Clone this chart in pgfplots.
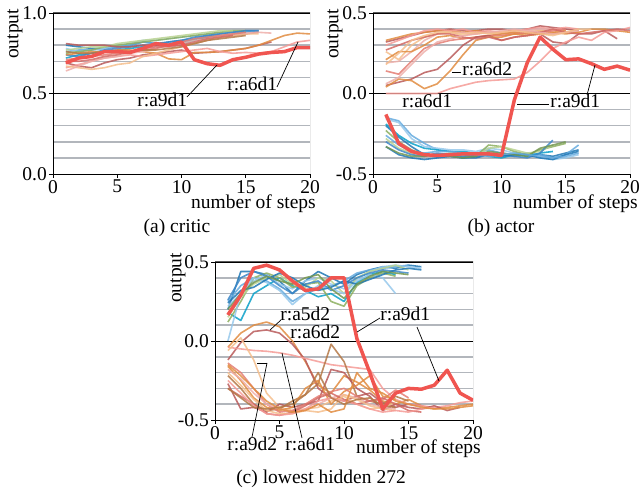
\documentclass[border=0pt]{standalone}
\usepackage{pgfplots}
\pgfplotsset{compat=1.18}
\usepackage{fontspec}
\setmainfont{Liberation Serif}
\definecolor{B1}{RGB}{31,119,180}
\definecolor{B2}{RGB}{100,170,222}
\definecolor{B3}{RGB}{10,160,200}
\definecolor{B4}{RGB}{150,200,235}
\definecolor{B5}{RGB}{60,135,200}
\definecolor{G1}{RGB}{140,175,95}
\definecolor{G2}{RGB}{185,210,145}
\definecolor{G3}{RGB}{115,150,80}
\definecolor{R1}{RGB}{185,90,90}
\definecolor{R2}{RGB}{228,125,115}
\definecolor{R3}{RGB}{245,155,150}
\definecolor{R4}{RGB}{210,105,100}
\definecolor{O1}{RGB}{225,140,65}
\definecolor{O2}{RGB}{245,190,140}
\definecolor{P1}{RGB}{238,175,170}
\definecolor{Br}{RGB}{180,120,70}
\definecolor{HL}{RGB}{240,85,80}
\definecolor{gridgray}{RGB}{178,182,188}
\pgfplotsset{
  base/.style={scale only axis, width=257pt, height=161pt, xmin=0, xmax=20,
    axis x line*=bottom, axis y line*=left,
    axis line style={black, line width=0.9pt},
    xtick={0,5,10,15,20}, xticklabels={0,5,10,15,20},
    tick align=outside, major tick length=4pt, minor tick length=0pt,
    tick style={black, line width=0.8pt},
    yticklabel style={inner xsep=2pt},
    xticklabel style={inner ysep=2pt},
    yminorgrids, ymajorgrids,
    minor grid style={color=gridgray, line width=1.5pt},
    major grid style={black, line width=0.9pt},
    every axis plot/.append style={line width=1.6pt, line join=round, opacity=0.85, no markers},
  },
  pm/.style={ymin=-0.5, ymax=0.5, ytick={-0.5,0,0.5}, yticklabels={-0.5,0.0,0.5},
    minor ytick={-0.4,-0.3,-0.2,-0.1,0.1,0.2,0.3,0.4}},
  hl/.style={HL, line width=3.5pt, opacity=1},
}
\begin{document}
\begin{tikzpicture}[font=\fontsize{19.5}{23}\selectfont]
\useasboundingbox (0,0) rectangle (639pt,490pt);
% ---------------- (a) critic
\begin{axis}[base, at={(53pt,316pt)}, anchor=south west,
  ymin=0, ymax=1, ytick={0,0.5,1}, yticklabels={0.0,0.5,1.0},
  minor ytick={0.1,0.2,0.3,0.4,0.6,0.7,0.8,0.9}]
\addplot[B1] coordinates {(1,0.80)(2,0.79)(3,0.78)(4,0.78)(5,0.79)(6,0.80)(7,0.82)(8,0.81)(9,0.82)(10,0.83)(11,0.84)(12,0.86)(13,0.87)(14,0.88)(15,0.89)(16,0.89)};
\addplot[B2] coordinates {(1,0.76)(2,0.77)(3,0.77)(4,0.78)(5,0.79)(6,0.80)(7,0.82)(8,0.81)(9,0.81)(10,0.82)(11,0.84)(12,0.86)(13,0.87)(14,0.88)(15,0.88)(16,0.89)};
\addplot[B3] coordinates {(1,0.72)(2,0.74)(3,0.75)(4,0.76)(5,0.77)(6,0.78)(7,0.79)(8,0.80)(9,0.80)(10,0.81)(11,0.83)(12,0.85)(13,0.86)(14,0.87)(15,0.88)};
\addplot[B4] coordinates {(1,0.78)(2,0.76)(3,0.77)(4,0.78)(5,0.80)(6,0.81)(7,0.83)(8,0.83)(9,0.84)(10,0.85)(11,0.86)(12,0.87)(13,0.88)(14,0.89)};
\addplot[G1] coordinates {(1,0.75)(2,0.76)(3,0.77)(4,0.79)(5,0.80)(6,0.81)(7,0.82)(8,0.83)(9,0.84)(10,0.85)(11,0.86)(12,0.87)(13,0.88)(14,0.89)(15,0.89)};
\addplot[G2] coordinates {(1,0.77)(2,0.78)(3,0.79)(4,0.79)(5,0.81)(6,0.82)(7,0.83)(8,0.84)(9,0.85)(10,0.86)(11,0.87)(12,0.88)(13,0.89)(14,0.89)};
\addplot[B5] coordinates {(1,0.74)(2,0.73)(3,0.75)(4,0.77)(5,0.78)(6,0.79)(7,0.80)(8,0.80)(9,0.82)(10,0.83)(11,0.85)(12,0.86)(13,0.87)(14,0.88)(15,0.89)(16,0.89)};
\addplot[R1] coordinates {(1,0.81)(2,0.80)(3,0.80)(4,0.80)(5,0.79)(6,0.79)(7,0.80)(8,0.80)(9,0.80)(10,0.80)(11,0.81)(12,0.83)(13,0.85)(14,0.86)(15,0.87)(16,0.88)};
\addplot[R1] coordinates {(1,0.69)(2,0.67)(3,0.66)(4,0.69)(5,0.71)(6,0.72)(7,0.74)(8,0.75)(9,0.76)(10,0.77)(11,0.75)(12,0.755)(13,0.76)(14,0.77)(15,0.78)(16,0.80)(17,0.82)};
\addplot[O1] coordinates {(1,0.74)(2,0.75)(3,0.76)(4,0.76)(5,0.77)(6,0.77)(7,0.76)(8,0.75)(9,0.715)(10,0.71)(11,0.755)(12,0.755)(13,0.76)(14,0.77)(15,0.78)(16,0.80)(17,0.83)(18,0.86)(19,0.875)(20,0.87)};
\addplot[R3] coordinates {(1,0.66)(2,0.68)(3,0.70)(4,0.72)(5,0.73)(6,0.74)(7,0.73)(8,0.74)(9,0.75)(10,0.76)(11,0.77)(12,0.78)(13,0.76)(14,0.75)(15,0.755)(16,0.75)(17,0.76)(18,0.79)(19,0.82)(20,0.83)};
\addplot[O2] coordinates {(1,0.67)(2,0.66)(3,0.65)(4,0.66)(5,0.68)(6,0.69)(7,0.73)(8,0.75)(9,0.77)(10,0.79)(11,0.81)(12,0.83)(13,0.85)(14,0.86)(15,0.87)(16,0.87)};
\addplot[P1] coordinates {(1,0.64)(2,0.67)(3,0.70)(4,0.72)(5,0.73)(6,0.75)(7,0.76)(8,0.78)(9,0.80)(10,0.81)(11,0.83)(12,0.84)(13,0.86)(14,0.87)(15,0.875)(16,0.88)(17,0.875)};
\addplot[R2] coordinates {(1,0.71)(2,0.72)(3,0.73)(4,0.74)(5,0.75)(6,0.76)(7,0.77)(8,0.78)(9,0.80)(10,0.82)(11,0.84)(12,0.85)(13,0.86)(14,0.87)(15,0.88)};
\addplot[R4] coordinates {(1,0.70)(2,0.70)(3,0.71)(4,0.73)(5,0.74)(6,0.76)(7,0.78)(8,0.79)(9,0.79)(10,0.80)(11,0.82)(12,0.84)(13,0.85)(14,0.86)};
\addplot[Br] coordinates {(1,0.76)(2,0.75)(3,0.75)(4,0.76)(5,0.76)(6,0.76)(7,0.77)(8,0.77)(9,0.78)(10,0.79)(11,0.81)(12,0.83)(13,0.84)(14,0.85)(15,0.86)};
\addplot[hl] coordinates {(1,0.69)(2,0.72)(3,0.73)(4,0.76)(5,0.76)(6,0.755)(7,0.78)(8,0.81)(9,0.80)(10,0.82)(11,0.71)(12,0.685)(13,0.675)(14,0.71)(15,0.725)(16,0.745)(17,0.755)(18,0.76)(19,0.785)(20,0.785)};
\draw[black!65, line width=1pt] (axis cs:0,1) -- (axis cs:20,1) -- (axis cs:20,0);
\end{axis}
% ---------------- (b) actor
\begin{axis}[base, pm, at={(373pt,316pt)}, anchor=south west]
\addplot[B1] coordinates {(1,-0.20)(2,-0.27)(3,-0.33)(4,-0.38)(5,-0.39)(6,-0.39)(7,-0.40)(8,-0.40)(9,-0.38)(10,-0.38)(11,-0.39)(12,-0.38)(13,-0.38)(14,-0.39)(15,-0.37)(16,-0.35)};
\addplot[B2] coordinates {(1,-0.15)(2,-0.17)(3,-0.26)(4,-0.31)(5,-0.35)(6,-0.36)(7,-0.37)(8,-0.37)(9,-0.35)(10,-0.37)(11,-0.38)(12,-0.37)(13,-0.38)(14,-0.40)(15,-0.38)(16,-0.32)};
\addplot[B3] coordinates {(1,-0.19)(2,-0.26)(3,-0.31)(4,-0.34)(5,-0.35)(6,-0.36)(7,-0.36)(8,-0.37)(9,-0.39)(10,-0.40)(11,-0.38)(12,-0.39)(13,-0.37)(14,-0.36)};
\addplot[B4] coordinates {(1,-0.16)(2,-0.18)(3,-0.28)(4,-0.33)(5,-0.34)(6,-0.35)(7,-0.35)(8,-0.36)(9,-0.34)(10,-0.35)(11,-0.37)(12,-0.38)(13,-0.40)(14,-0.41)(15,-0.40)(16,-0.38)};
\addplot[G1] coordinates {(1,-0.23)(2,-0.30)(3,-0.35)(4,-0.38)(5,-0.39)(6,-0.38)(7,-0.39)(8,-0.39)(9,-0.32)(10,-0.33)(11,-0.36)(12,-0.38)(13,-0.35)(14,-0.33)(15,-0.31)};
\addplot[G2] coordinates {(1,-0.28)(2,-0.34)(3,-0.37)(4,-0.38)(5,-0.38)(6,-0.37)(7,-0.38)(8,-0.39)(9,-0.34)(10,-0.33)(11,-0.35)(12,-0.37)(13,-0.36)(14,-0.32)};
\addplot[B5] coordinates {(1,-0.30)(2,-0.35)(3,-0.38)(4,-0.39)(5,-0.37)(6,-0.38)(7,-0.39)(8,-0.38)(9,-0.37)(10,-0.38)(11,-0.39)(12,-0.40)(13,-0.37)(14,-0.29)};
\addplot[B1] coordinates {(1,-0.33)(2,-0.38)(3,-0.40)(4,-0.41)(5,-0.40)(6,-0.39)(7,-0.40)(8,-0.39)(9,-0.38)(10,-0.39)(11,-0.38)(12,-0.38)(13,-0.40)(14,-0.41)(15,-0.38)(16,-0.36)};
\addplot[G3] coordinates {(1,-0.33)(2,-0.37)(3,-0.39)(4,-0.39)(5,-0.38)(6,-0.39)(7,-0.40)(8,-0.39)(9,-0.36)(10,-0.37)(11,-0.38)(12,-0.39)(13,-0.34)(14,-0.32)(15,-0.30)};
\addplot[B2] coordinates {(1,-0.26)(2,-0.32)(3,-0.36)(4,-0.37)(5,-0.36)(6,-0.36)(7,-0.37)(8,-0.38)(9,-0.39)(10,-0.38)(11,-0.37)(12,-0.38)(13,-0.39)(14,-0.40)(15,-0.39)(16,-0.37)};
\addplot[R1] coordinates {(1,0.32)(2,0.34)(3,0.36)(4,0.38)(5,0.39)(6,0.40)(7,0.39)(8,0.39)(9,0.40)(10,0.40)(11,0.39)(12,0.40)(13,0.42)(14,0.41)(15,0.40)(16,0.39)};
\addplot[O1] coordinates {(1,0.33)(2,0.35)(3,0.37)(4,0.38)(5,0.39)(6,0.39)(7,0.38)(8,0.39)(9,0.38)(10,0.38)(11,0.37)(12,0.38)(13,0.39)(14,0.38)(15,0.37)(16,0.38)};
\addplot[R3] coordinates {(1,0.30)(2,0.33)(3,0.36)(4,0.39)(5,0.40)(6,0.39)(7,0.40)(8,0.38)(9,0.39)(10,0.38)(11,0.39)(12,0.40)(13,0.41)(14,0.40)(15,0.41)(16,0.40)};
\addplot[P1] coordinates {(1,0.19)(2,0.20)(3,0.26)(4,0.33)(5,0.37)(6,0.38)(7,0.38)(8,0.37)(9,0.38)(10,0.37)(11,0.38)(12,0.39)(13,0.40)(14,0.40)(15,0.39)};
\addplot[O2] coordinates {(1,0.26)(2,0.21)(3,0.30)(4,0.35)(5,0.37)(6,0.38)(7,0.36)(8,0.37)(9,0.38)(10,0.36)(11,0.37)(12,0.38)(13,0.39)(14,0.38)};
\addplot[O1] coordinates {(1,0.21)(2,0.26)(3,0.26)(4,0.30)(5,0.35)(6,0.36)(7,0.34)(8,0.35)(9,0.36)(10,0.37)(11,0.38)(12,0.37)(13,0.38)(14,0.38)(15,0.39)};
\addplot[R2] coordinates {(1,0.14)(2,0.12)(3,0.20)(4,0.28)(5,0.31)(6,0.33)(7,0.34)(8,0.35)(9,0.36)(10,0.36)(11,0.37)(12,0.38)(13,0.38)(14,0.39)(15,0.40)};
\addplot[R1] coordinates {(1,0.05)(2,0.07)(3,0.09)(4,0.13)(5,0.15)(6,0.22)(7,0.30)(8,0.35)(9,0.36)(10,0.33)(11,0.35)(12,0.36)(13,0.37)(14,0.32)(15,0.31)(16,0.37)(17,0.37)(18,0.39)(19,0.34)};
\addplot[O1] coordinates {(1,0.04)(2,0.09)(3,0.08)(4,0.03)(5,0.06)(6,0.14)(7,0.24)(8,0.33)(9,0.35)(10,0.35)(11,0.37)(12,0.36)(13,0.37)(14,0.37)(15,0.38)(16,0.38)(17,0.40)(18,0.40)(19,0.39)(20,0.38)};
\addplot[R3] coordinates {(1,0.0)(2,0.0)(3,0.0)(4,0.0)(5,0.0)(6,0.03)(7,0.05)(8,0.07)(9,0.08)(10,0.085)(11,0.09)(12,0.13)(13,0.20)(14,0.28)(15,0.32)(16,0.35)(17,0.33)(18,0.38)(19,0.39)(20,0.41)};
\addplot[R4] coordinates {(1,0.27)(2,0.30)(3,0.33)(4,0.35)(5,0.37)(6,0.37)(7,0.35)(8,0.34)(9,0.35)(10,0.33)(11,0.35)(12,0.36)(13,0.38)(14,0.40)(15,0.38)(16,0.37)(17,0.38)(18,0.39)(19,0.40)(20,0.39)};
\addplot[P1] coordinates {(1,0.06)(2,0.10)(3,0.18)(4,0.26)(5,0.32)(6,0.34)(7,0.36)(8,0.37)(9,0.38)(10,0.39)(11,0.40)(12,0.39)(13,0.38)(14,0.37)(15,0.38)(16,0.39)};
\addplot[O2] coordinates {(1,0.18)(2,0.25)(3,0.33)(4,0.36)(5,0.38)(6,0.38)(7,0.37)(8,0.38)(9,0.37)(10,0.38)(11,0.39)(12,0.38)(13,0.37)(14,0.36)(15,0.38)(16,0.40)(17,0.40)};
\addplot[hl] coordinates {(1,-0.13)(2,-0.31)(3,-0.36)(4,-0.38)(5,-0.385)(6,-0.38)(7,-0.375)(8,-0.375)(9,-0.375)(10,-0.385)(11,-0.04)(12,0.19)(13,0.35)(14,0.275)(15,0.21)(16,0.215)(17,0.185)(18,0.15)(19,0.17)(20,0.145)};
\draw[black!65, line width=1pt] (axis cs:0,0.5) -- (axis cs:20,0.5) -- (axis cs:20,-0.5);
\end{axis}
% ---------------- (c) lowest hidden 272
\begin{axis}[base, pm, at={(215pt,70pt)}, anchor=south west, width=258pt, height=158pt]
\addplot[B1] coordinates {(1,0.20)(2,0.44)(3,0.44)(4,0.42)(5,0.38)(6,0.30)(7,0.38)(8,0.44)(9,0.40)(10,0.36)(11,0.42)(12,0.45)(13,0.47)(14,0.46)(15,0.48)(16,0.47)};
\addplot[B2] coordinates {(1,0.25)(2,0.35)(3,0.40)(4,0.38)(5,0.33)(6,0.25)(7,0.30)(8,0.33)(9,0.35)(10,0.38)(11,0.43)(12,0.45)(13,0.46)(14,0.47)(15,0.48)};
\addplot[B3] coordinates {(1,0.18)(2,0.13)(3,0.30)(4,0.35)(5,0.40)(6,0.35)(7,0.32)(8,0.28)(9,0.30)(10,0.25)(11,0.37)(12,0.42)(13,0.44)(14,0.42)};
\addplot[B4] coordinates {(1,0.22)(2,0.30)(3,0.38)(4,0.42)(5,0.36)(6,0.33)(7,0.38)(8,0.40)(9,0.36)(10,0.33)(11,0.39)(12,0.44)(13,0.47)(14,0.48)(15,0.47)(16,0.46)};
\addplot[G1] coordinates {(1,0.12)(2,0.25)(3,0.40)(4,0.43)(5,0.40)(6,0.34)(7,0.36)(8,0.37)(9,0.25)(10,0.22)(11,0.35)(12,0.40)(13,0.43)(14,0.41)};
\addplot[G2] coordinates {(1,0.15)(2,0.28)(3,0.36)(4,0.40)(5,0.42)(6,0.36)(7,0.34)(8,0.40)(9,0.38)(10,0.30)(11,0.40)(12,0.44)(13,0.46)(14,0.48)(15,0.45)};
\addplot[B5] coordinates {(1,0.26)(2,0.40)(3,0.44)(4,0.41)(5,0.35)(6,0.30)(7,0.36)(8,0.38)(9,0.32)(10,0.35)(11,0.40)(12,0.43)(13,0.45)(14,0.44)(15,0.43)};
\addplot[B4] coordinates {(1,0.00)(2,0.30)(3,0.40)(4,0.37)(5,0.32)(6,0.23)(7,0.30)(8,0.35)(9,0.33)(10,0.30)(11,0.38)(12,0.42)(13,0.40)(14,0.30)};
\addplot[B1] coordinates {(1,0.24)(2,0.32)(3,0.34)(4,0.39)(5,0.43)(6,0.40)(7,0.35)(8,0.32)(9,0.34)(10,0.38)(11,0.36)(12,0.39)(13,0.42)(14,0.45)(15,0.46)(16,0.45)};
\addplot[G3] coordinates {(1,0.20)(2,0.30)(3,0.37)(4,0.41)(5,0.38)(6,0.36)(7,0.40)(8,0.42)(9,0.33)(10,0.27)(11,0.36)(12,0.41)(13,0.44)(14,0.43)(15,0.42)};
\addplot[O1] coordinates {(1,-0.04)(2,0.05)(3,0.10)(4,0.12)(5,0.09)(6,0.00)(7,-0.13)(8,-0.28)(9,-0.33)(10,-0.22)(11,-0.26)(12,-0.31)(13,-0.38)(14,-0.40)(15,-0.37)(16,-0.41)(17,-0.43)(18,-0.42)(19,-0.41)(20,-0.40)};
\addplot[R1] coordinates {(1,-0.12)(2,-0.01)(3,0.06)(4,0.07)(5,0.05)(6,-0.02)(7,-0.12)(8,-0.30)(9,-0.36)(10,-0.38)(11,-0.35)(12,-0.33)(13,-0.39)(14,-0.42)(15,-0.40)(16,-0.41)};
\addplot[R3] coordinates {(1,-0.04)(2,-0.05)(3,-0.06)(4,-0.065)(5,-0.075)(6,-0.09)(7,-0.11)(8,-0.13)(9,-0.15)(10,-0.16)(11,-0.17)(12,-0.18)(13,-0.30)(14,-0.37)(15,-0.40)(16,-0.41)(17,-0.42)(18,-0.41)(19,-0.39)(20,-0.38)};
\addplot[O2] coordinates {(1,-0.06)(2,0.02)(3,-0.12)(4,-0.33)(5,-0.42)(6,-0.44)(7,-0.43)(8,-0.42)(9,-0.38)(10,-0.35)(11,-0.40)(12,-0.43)(13,-0.42)(14,-0.39)};
\addplot[Br] coordinates {(1,-0.22)(2,-0.30)(3,-0.40)(4,-0.44)(5,-0.43)(6,-0.38)(7,-0.34)(8,-0.27)(9,-0.02)(10,-0.13)(11,-0.35)(12,-0.38)(13,-0.40)(14,-0.35)(15,-0.38)};
\addplot[R1] coordinates {(1,-0.27)(2,-0.43)(3,-0.42)(4,-0.45)(5,-0.40)(6,-0.42)(7,-0.40)(8,-0.38)(9,-0.18)(10,-0.20)(11,-0.30)(12,-0.35)(13,-0.44)(14,-0.40)(15,-0.42)(16,-0.43)(17,-0.41)(18,-0.44)(19,-0.42)};
\addplot[O1] coordinates {(1,-0.16)(2,-0.25)(3,-0.36)(4,-0.42)(5,-0.44)(6,-0.42)(7,-0.30)(8,-0.25)(9,-0.40)(10,-0.32)(11,-0.28)(12,-0.22)(13,-0.35)(14,-0.37)};
\addplot[R2] coordinates {(1,-0.14)(2,-0.20)(3,-0.30)(4,-0.40)(5,-0.45)(6,-0.44)(7,-0.40)(8,-0.35)(9,-0.32)(10,-0.30)(11,-0.35)(12,-0.38)(13,-0.37)(14,-0.31)(15,-0.36)};
\addplot[P1] coordinates {(1,-0.18)(2,-0.24)(3,-0.33)(4,-0.40)(5,-0.43)(6,-0.45)(7,-0.44)(8,-0.40)(9,-0.36)(10,-0.34)(11,-0.36)(12,-0.40)(13,-0.42)(14,-0.43)};
\addplot[R4] coordinates {(1,-0.30)(2,-0.35)(3,-0.40)(4,-0.46)(5,-0.47)(6,-0.45)(7,-0.41)(8,-0.36)(9,-0.33)(10,-0.37)(11,-0.40)(12,-0.38)(13,-0.36)(14,-0.40)(15,-0.44)(16,-0.45)};
\addplot[O2] coordinates {(1,-0.20)(2,-0.28)(3,-0.37)(4,-0.44)(5,-0.46)(6,-0.46)(7,-0.44)(8,-0.45)(9,-0.43)(10,-0.34)(11,-0.37)(12,-0.41)(13,-0.43)(14,-0.44)};
\addplot[R3] coordinates {(1,-0.25)(2,-0.33)(3,-0.41)(4,-0.46)(5,-0.47)(6,-0.46)(7,-0.43)(8,-0.38)(9,-0.36)(10,-0.38)(11,-0.40)(12,-0.43)(13,-0.45)(14,-0.44)(15,-0.45)(16,-0.43)(17,-0.42)};
\addplot[O1] coordinates {(1,-0.15)(2,-0.22)(3,-0.30)(4,-0.38)(5,-0.43)(6,-0.45)(7,-0.44)(8,-0.40)(9,-0.45)(10,-0.43)(11,-0.20)(12,-0.30)(13,-0.33)(14,-0.38)(15,-0.40)(16,-0.42)(17,-0.43)(18,-0.43)(19,-0.42)(20,-0.41)};
\addplot[Br] coordinates {(1,-0.30)(2,-0.36)(3,-0.42)(4,-0.43)(5,-0.42)(6,-0.40)(7,-0.34)(8,-0.20)(9,-0.36)(10,-0.40)(11,-0.37)(12,-0.36)(13,-0.41)(14,-0.42)};
\addplot[hl] coordinates {(1,0.165)(2,0.29)(3,0.46)(4,0.48)(5,0.45)(6,0.38)(7,0.32)(8,0.33)(9,0.40)(10,0.40)(11,0.015)(12,-0.20)(13,-0.43)(14,-0.33)(15,-0.30)(16,-0.305)(17,-0.28)(18,-0.185)(19,-0.33)(20,-0.375)};
\draw[black!65, line width=1pt] (axis cs:0,0.5) -- (axis cs:20,0.5) -- (axis cs:20,-0.5);
\end{axis}
% ---------------- labels
\node[rotate=90] at (15pt,456pt) {output};
\node[rotate=90] at (335pt,456pt) {output};
\node[rotate=90] at (178pt,212pt) {output};
\node[anchor=base east, inner sep=0pt] at (316pt,281pt) {number of steps};
\node[anchor=base east, inner sep=0pt] at (638pt,281pt) {number of steps};
\node[anchor=base east, inner sep=0pt] at (481pt,37pt) {number of steps};
\node[anchor=base, inner sep=0pt] at (177pt,257pt) {(a) critic};
\node[anchor=base, inner sep=0pt] at (501pt,257pt) {(b) actor};
\node[anchor=base, inner sep=0pt] at (321pt,7pt) {(c) lowest hidden 272};
% ---------------- annotations
\begin{scope}[line width=0.7pt, black]
\node[anchor=base west, inner sep=0pt] at (137pt,383pt) {r:a9d1};
\draw (187pt,393pt) -- (217pt,425pt);
\node[anchor=base west, inner sep=0pt] at (227pt,399pt) {r:a6d1};
\draw (277pt,403pt) -- (298pt,448pt);
\node[anchor=base west, inner sep=0pt] at (462pt,414pt) {r:a6d2};
\draw (452pt,418pt) -- (461pt,418pt);
\node[anchor=base west, inner sep=0pt] at (402pt,382pt) {r:a6d1};
\node[anchor=base west, inner sep=0pt] at (550pt,382pt) {r:a9d1};
\draw (517pt,386pt) -- (549pt,386pt);
\draw (587pt,395pt) -- (595pt,425pt);
\node[anchor=base west, inner sep=0pt] at (280pt,169pt) {r:a5d2};
\draw (270pt,160pt) -- (281pt,170pt);
\node[anchor=base west, inner sep=0pt] at (290pt,151pt) {r:a6d2};
\node[anchor=base west, inner sep=0pt] at (380pt,169pt) {r:a9d1};
\draw (380pt,172pt) -- (357pt,158pt);
\draw (417pt,163pt) -- (439pt,109pt);
\node[anchor=base west, inner sep=0pt] at (227pt,40pt) {r:a9d2};
\draw (252pt,53pt) -- (267pt,127pt);
\draw (257pt,127pt) -- (267pt,127pt);
\node[anchor=base west, inner sep=0pt] at (285pt,40pt) {r:a6d1};
\draw (302pt,52pt) -- (282pt,137pt);
\end{scope}
\end{tikzpicture}
\end{document}
